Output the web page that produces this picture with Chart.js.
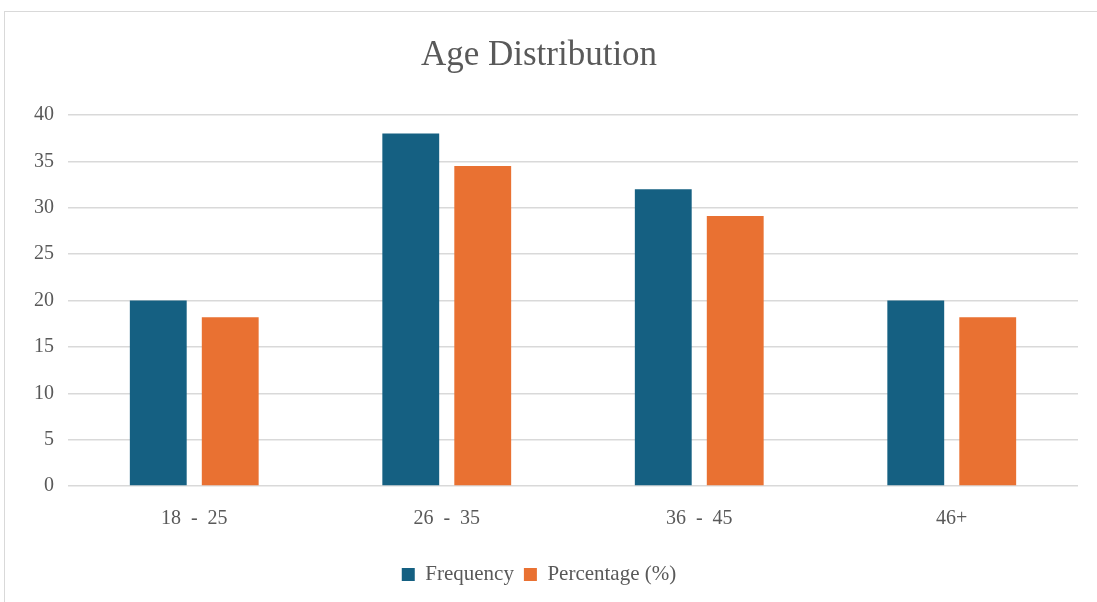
<!DOCTYPE html>
<html>
<head>
<meta charset="utf-8">
<script src="https://cdn.jsdelivr.net/npm/chart.js@4/dist/chart.umd.min.js"></script>
<style>
  html, body { margin: 0; padding: 0; background: #ffffff; }
  #frame { position: absolute; left: 4px; top: 11px; width: 1200px; height: 700px; border: 1px solid #d9d9d9; box-sizing: border-box; }
  #wrap { position: absolute; left: 0; top: 0; width: 1097px; height: 602px; }
</style>
</head>
<body>
<div id="frame"></div>
<div id="wrap"><canvas id="c" width="1097" height="602"></canvas></div>
<script>
const categories = ["18  -  25", "26  -  35", "36  -  45", "46+"];
const frequency = [20, 38, 32, 20];
const percentage = [18.2, 34.5, 29.1, 18.2];
const seriesNames = ["Frequency", "Percentage (%)"];
const yTicks = [0, 5, 10, 15, 20, 25, 30, 35, 40];

const FONT = "'Liberation Serif', 'DejaVu Serif', serif";
const TXT = "#595959";

new Chart(document.getElementById('c'), {
  type: 'bar',
  data: {
    labels: categories,
    datasets: [
      { label: seriesNames[0], data: frequency, backgroundColor: '#156082', borderWidth: 0,
        categoryPercentage: 0.57, barPercentage: 0.79 },
      { label: seriesNames[1], data: percentage, backgroundColor: '#E97132', borderWidth: 0,
        categoryPercentage: 0.57, barPercentage: 0.79 }
    ]
  },
  options: {
    responsive: false,
    animation: false,
    devicePixelRatio: 1,
    layout: { padding: { left: 0, right: 19, top: 0, bottom: 7 } },
    plugins: {
      title: {
        display: true,
        text: 'Age Distribution',
        color: TXT,
        font: { family: FONT, size: 35, weight: 'normal' },
        padding: { top: 35, bottom: 38 }
      },
      legend: {
        display: true,
        position: 'bottom',
        labels: {
          color: TXT,
          font: { family: FONT, size: 21 },
          boxWidth: 13,
          boxHeight: 13,
          padding: 10
        }
      },
      tooltip: { enabled: false }
    },
    scales: {
      x: {
        afterFit: (axis) => { axis.height = 68; },
        grid: { display: false },
        border: { display: false },
        ticks: { color: TXT, font: { family: FONT, size: 20 }, padding: 13, maxRotation: 0 }
      },
      y: {
        min: 0, max: 40,
        afterBuildTicks: (axis) => { axis.ticks = yTicks.map(v => ({ value: v })); },
        afterFit: (axis) => { axis.width = 68; },
        grid: { color: '#d9d9d9', lineWidth: 1.5, drawTicks: false },
        border: { display: false },
        ticks: { color: TXT, font: { family: FONT, size: 20 }, padding: 14 }
      }
    }
  }
});
</script>
</body>
</html>
